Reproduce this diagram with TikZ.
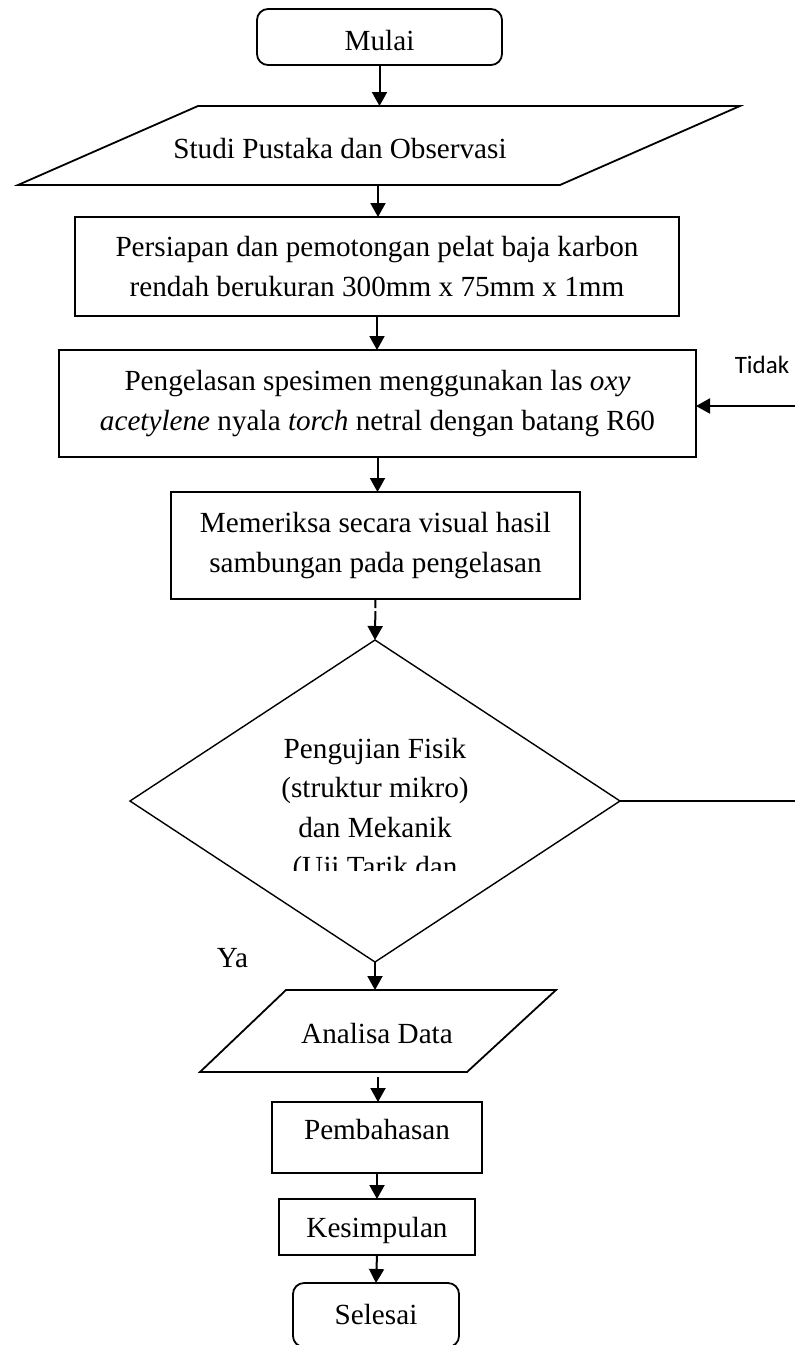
\documentclass[tikz,border=0pt]{standalone}
\usepackage{fontspec}
\setmainfont{Liberation Serif}
\newfontfamily\calib{Carlito}
\usetikzlibrary{arrows.meta,shapes.geometric}
\begin{document}
\begin{tikzpicture}[x=1pt,y=-1pt,
  font=\fontsize{29.2}{39.5}\selectfont,
  box/.style={draw, line width=1.8pt, inner sep=0pt, outer sep=0pt, align=center},
  termbox/.style={box, rounded corners=11pt},
  arr/.style={line width=2pt, -{Triangle[length=14pt,width=15pt]}},
  shapeline/.style={line width=1.8pt, line join=miter},
  plain/.style={anchor=base, inner sep=0pt}
]
\useasboundingbox (0,0) rectangle (795,1345);
\fill[white] (0,0) rectangle (795,1345);
\clip (0,0) rectangle (795,1345);

% start
\node[termbox, minimum width=245pt, minimum height=56pt, text height=26pt, text depth=0pt] (mulai) at (379.5,37) {Mulai};

% input parallelogram
\coordinate (s1) at (198,106);
\coordinate (s2) at (740,106);
\coordinate (s3) at (560,185);
\coordinate (s4) at (18,185);
\draw[shapeline] (s1) -- (s2) -- (s3) -- (s4) -- cycle;
\node[plain] (studi) at (340,158) {Studi Pustaka dan Observasi};
\coordinate (studiIn) at (379.5,106);
\coordinate (studiOut) at (378,185);

% process boxes
\node[box, minimum width=604pt, minimum height=99pt] (persiapan) at (377,266.5)
  {Persiapan dan pemotongan pelat baja karbon\\rendah berukuran 300mm x 75mm x 1mm};
\node[box, minimum width=637pt, minimum height=107pt] (pengelasan) at (377.5,403.5)
  {Pengelasan spesimen menggunakan las \textit{oxy}\\\textit{acetylene} nyala \textit{torch} netral dengan batang R60};
\node[box, minimum width=409pt, minimum height=107pt] (memeriksa) at (375.5,545.5)
  {Memeriksa secara visual hasil\\sambungan pada pengelasan};

% decision
\node[diamond, draw, line width=1.4pt, minimum width=490pt, minimum height=322pt, inner sep=0pt, outer sep=0pt] (uji) at (375,801) {};
\begin{scope}
  \clip (0,0) rectangle (795,870);
  \node[align=center] (ujitext) at (375,810.7) {Pengujian Fisik\\(struktur mikro)\\dan Mekanik\\(Uji Tarik dan};
\end{scope}

% loop back
\node[plain, font={\calib\fontsize{25}{30}\selectfont}] (tidak) at (762,373) {Tidak};
\coordinate (backIn) at (795,406);
\coordinate (noOut) at (795,801);
\draw[line width=1.6pt] (uji.east) -- (noOut);
\draw[arr] (backIn) -- (pengelasan.east |- backIn);

\node[plain] (ya) at (232.5,967) {Ya};

% analysis parallelogram
\coordinate (a1) at (286,990);
\coordinate (a2) at (556,990);
\coordinate (a3) at (467,1072);
\coordinate (a4) at (200,1072);
\draw[shapeline] (a1) -- (a2) -- (a3) -- (a4) -- cycle;
\node[plain] (analisa) at (377,1043) {Analisa Data};
\coordinate (anaIn) at (377,990);
\coordinate (anaOut) at (378,1077);

\node[box, minimum width=210pt, minimum height=71pt, text height=20pt, text depth=16pt] (pembahasan) at (377,1137.5) {Pembahasan};
\node[box, minimum width=196pt, minimum height=56pt, text height=20pt, text depth=0pt] (kesimpulan) at (377,1227) {Kesimpulan};
\node[termbox, minimum width=166pt, minimum height=64pt, text height=20pt, text depth=2pt] (selesai) at (376,1315) {Selesai};

% connectors
\draw[arr] (mulai.south) -- (studiIn);
\draw[arr] (studiOut) -- (studiOut |- persiapan.north);
\draw[arr] (persiapan.south) -- (persiapan.south |- pengelasan.north);
\draw[arr] (pengelasan.south) -- (pengelasan.south |- memeriksa.north);
\draw[arr, dash pattern=on 9pt off 3pt on 100pt] (memeriksa.south) -- (uji.north);
\draw[arr] (uji.south) -- (uji.south |- anaIn);
\draw[arr] (anaOut) -- (anaOut |- pembahasan.north);
\draw[arr] (pembahasan.south) -- (kesimpulan.north);
\draw[arr] (kesimpulan.south) -- (selesai.north);
\end{tikzpicture}
\end{document}
